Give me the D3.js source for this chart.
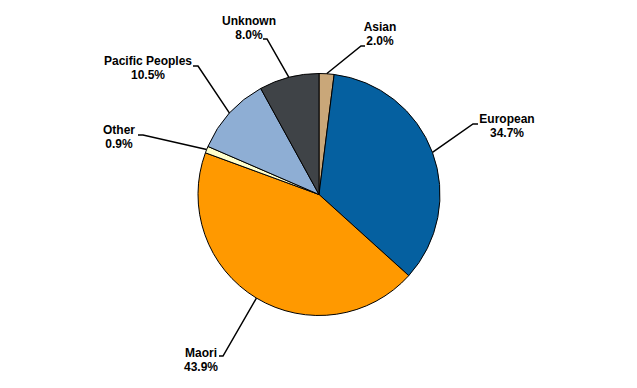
<!DOCTYPE html>
<html>
<head>
<meta charset="utf-8">
<script src="https://cdn.jsdelivr.net/npm/d3@7"></script>
<style>
  body { margin: 0; background: #fff; }
  text { font-family: "Liberation Sans", Arial, sans-serif; font-weight: bold; font-size: 12px; fill: #000; }
</style>
</head>
<body>
<div id="chart"></div>
<script>
// data
var categories = ["Asian", "European", "Maori", "Other", "Pacific Peoples", "Unknown"];
var shares = [2.0, 34.7, 43.9, 0.9, 10.5, 8.0];
var colors = ["#C9A779", "#0560A0", "#FF9900", "#FFFFCC", "#8EAED4", "#3F4347"];

// label layout: label centre x, first baseline y, elbow of the leader, tail end
var labelLayout = [
  {cx: 380, y: 31,  ex: 361, ey: 46,  tx: 365},
  {cx: 507, y: 123, ex: 473, ey: 124, tx: 478},
  {cx: 201, y: 357, ex: 223, ey: 356, tx: 219},
  {cx: 119, y: 134, ex: 143, ey: 135, tx: 138},
  {cx: 148, y: 65,  ex: 198, ey: 66,  tx: 193},
  {cx: 249, y: 25,  ex: 267, ey: 39,  tx: 263}
];

var width = 637, height = 388;
var cx = 319, cy = 194.5, r = 121;

var svg = d3.select("#chart")
  .append("svg")
  .attr("width", width)
  .attr("height", height);

var rows = categories.map(function(c, i) { return {name: c, value: shares[i], color: colors[i], lab: labelLayout[i]}; });

var pie = d3.pie().sort(null).value(function(d) { return d.value; });
var arc = d3.arc().innerRadius(0).outerRadius(r);

var g = svg.append("g").attr("transform", "translate(" + cx + "," + cy + ")");

var arcs = pie(rows);

g.selectAll("path.slice")
  .data(arcs)
  .enter()
  .append("path")
  .attr("class", "slice")
  .attr("d", arc)
  .attr("fill", function(d) { return d.data.color; })
  .attr("stroke", "#000")
  .attr("stroke-width", 1);

// leader lines
svg.selectAll("polyline.leader")
  .data(arcs)
  .enter()
  .append("polyline")
  .attr("class", "leader")
  .attr("fill", "none")
  .attr("stroke", "#000")
  .attr("stroke-width", 1.5)
  .attr("points", function(d) {
    var a = (d.startAngle + d.endAngle) / 2;
    var sx = cx + r * Math.sin(a), sy = cy - r * Math.cos(a);
    var l = d.data.lab;
    return [[sx, sy], [l.ex, l.ey], [l.tx, l.ey]].map(function(p) { return p.join(","); }).join(" ");
  });

// labels
var labels = svg.selectAll("text.lbl")
  .data(arcs)
  .enter()
  .append("text")
  .attr("class", "lbl")
  .attr("text-anchor", "middle");

labels.append("tspan")
  .attr("x", function(d) { return d.data.lab.cx; })
  .attr("y", function(d) { return d.data.lab.y; })
  .text(function(d) { return d.data.name; });

labels.append("tspan")
  .attr("x", function(d) { return d.data.lab.cx; })
  .attr("y", function(d) { return d.data.lab.y + 14; })
  .text(function(d) { return d3.format(".1f")(d.data.value) + "%"; });
</script>
</body>
</html>
